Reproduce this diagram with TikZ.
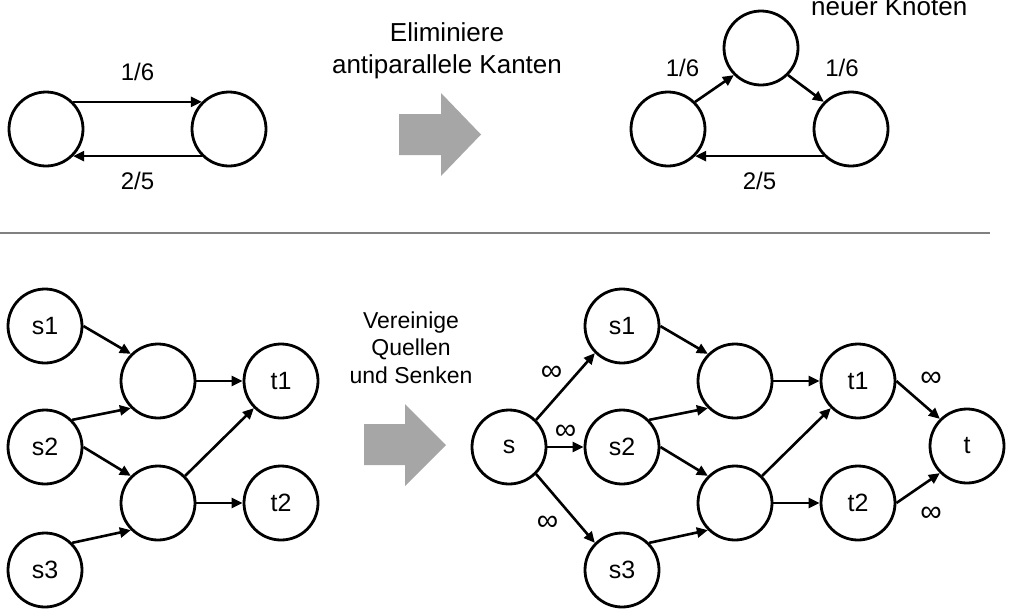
\documentclass[tikz,border=0pt]{standalone}
\usepackage{fontspec}
\setmainfont{Liberation Sans}
\usetikzlibrary{arrows.meta,positioning}

\begin{document}
\begin{tikzpicture}[
    x=1pt, y=-1pt,
    vertex/.style={circle, draw=black, line width=2.8pt, minimum size=74pt,
      inner sep=0pt, font=\fontsize{25}{29}\selectfont},
    flow/.style={black, line width=2.6pt, -{Triangle[length=11pt,width=10pt]}},
    lbl/.style={font=\fontsize{24}{28}\selectfont, inner sep=2pt},
    inf/.style={font=\fontsize{30}{32}\selectfont, inner sep=0pt},
    note/.style={align=center, inner sep=0pt, font=\fontsize{26}{32}\selectfont},
    bigarrow/.style={fill=black!35, draw=none}
  ]

  \useasboundingbox (0,0) rectangle (1011,614);

  % upper half: antiparallel edges

  \node (a)   [vertex] at (46,129)  {};
  \node (b)   [vertex] at (229,129) {};

  \node (c)   [vertex] at (668,129) {};
  \node (new) [vertex] at (761,48)  {};
  \node (d)   [vertex] at (851,129) {};

  % anchor=base is the baseline of the last line
  \node (elim)  [note, anchor=base] at (447,73) {Eliminiere\\
                                                 antiparallele Kanten};
  \node (neu)   [note, anchor=base west] at (811,15) {neuer Knoten};

  \fill[bigarrow] (399,114) -- (441,114) -- (441,93) -- (481,134.5)
                  -- (441,176) -- (441,155) -- (399,155) -- cycle;

  \draw[flow] (a.45)   -- node[lbl, above=18pt] {1/6} (b.135);
  \draw[flow] (b.-135) -- node[lbl, below=13pt] {2/5} (a.-45);

  \draw[flow] (c.45)   -- node[lbl, above left=8pt and 12pt] {1/6} (new.-135);
  \draw[flow] (new.-45) -- node[lbl, above right=8pt and 16pt] {1/6} (d.135);
  \draw[flow] (d.-135) -- node[lbl, below=13pt] {2/5} (c.-45);

  % separator
  \draw[black!50, line width=1.5pt] (0,233) -- (990,233);

  % lower half: several sources and sinks

  \node (s1)  [vertex] at (45,326)  {s1};
  \node (s2)  [vertex] at (45,447)  {s2};
  \node (s3)  [vertex] at (45,570)  {s3};
  \node (m1)  [vertex] at (158,381) {};
  \node (m2)  [vertex] at (158,503) {};
  \node (t1)  [vertex] at (281,381) {t1};
  \node (t2)  [vertex] at (281,503) {t2};

  \node (merge) [note, anchor=base, font=\fontsize{23}{27.5}\selectfont]
                at (411,383) {Vereinige\\
                              Quellen\\
                              und Senken};

  \fill[bigarrow] (364,424) -- (405,424) -- (405,404) -- (446,445)
                  -- (405,486) -- (405,465) -- (364,465) -- cycle;

  \node (s)   [vertex] at (509,447) {s};
  \node (rs1) [vertex] at (622,326) {s1};
  \node (rs2) [vertex] at (622,447) {s2};
  \node (rs3) [vertex] at (622,570) {s3};
  \node (rm1) [vertex] at (735,381) {};
  \node (rm2) [vertex] at (735,503) {};
  \node (rt1) [vertex] at (858,381) {t1};
  \node (rt2) [vertex] at (858,503) {t2};
  \node (t)   [vertex] at (967,446) {t};

  \draw[flow] (s1.east) -- (m1.135);
  \draw[flow] (s2.45)   -- (m1.-135);
  \draw[flow] (s2.east) -- (m2.135);
  \draw[flow] (s3.45)   -- (m2.-135);
  \draw[flow] (m1.east) -- (t1.west);
  \draw[flow] (m2.45)   -- (t1.-135);
  \draw[flow] (m2.east) -- (t2.west);

  \draw[flow] (s.45)   -- node[inf, shift={(-14,-13)}] {∞} (rs1.-135);
  \draw[flow] (s.east) -- node[inf, shift={(0,-15)}]   {∞} (rs2.west);
  \draw[flow] (s.-45)  -- node[inf, shift={(-18,15)}]  {∞} (rs3.135);

  \draw[flow] (rs1.east) -- (rm1.135);
  \draw[flow] (rs2.45)   -- (rm1.-135);
  \draw[flow] (rs2.east) -- (rm2.135);
  \draw[flow] (rs3.45)   -- (rm2.-135);
  \draw[flow] (rm1.east) -- (rt1.west);
  \draw[flow] (rm2.45)   -- (rt1.-135);
  \draw[flow] (rm2.east) -- (rt2.west);

  \draw[flow] (rt1.east) -- node[inf, shift={(13,-21)}] {∞} (t.135);
  \draw[flow] (rt2.east) -- node[inf, shift={(13,26)}]  {∞} (t.-135);

\end{tikzpicture}
\end{document}
